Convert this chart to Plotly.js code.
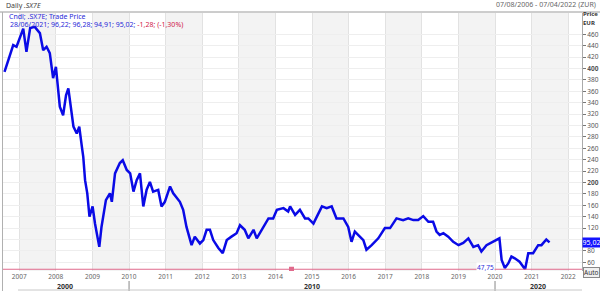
<!DOCTYPE html>
<html>
<head>
<meta charset="utf-8">
<script src="https://cdn.plot.ly/plotly-3.0.1.min.js"></script>
<style>html,body{margin:0;padding:0;background:#fff;}#chart{width:600px;height:291px;}</style>
</head>
<body>
<div id="chart"></div>
<script>
// ---- data ----
const dates = [
"2006-08-07","2006-09-12","2006-11-02","2006-12-05","2007-01-08","2007-02-10","2007-03-14","2007-04-20","2007-06-05","2007-07-26",
"2007-08-28","2007-10-01","2007-11-02","2007-12-05","2008-01-02","2008-01-26","2008-02-10","2008-03-14","2008-04-12","2008-05-05",
"2008-05-27","2008-06-25","2008-07-28","2008-08-22","2008-09-17","2008-10-01","2008-10-19","2008-11-10","2008-12-02","2009-01-02",
"2009-01-26","2009-03-10","2009-04-01","2009-05-15","2009-06-24","2009-07-13","2009-08-14","2009-10-01","2009-10-30","2009-12-09",
"2010-01-12","2010-02-14","2010-03-18","2010-04-20","2010-05-23","2010-06-25","2010-07-28","2010-08-29","2010-10-19","2010-11-21",
"2010-12-24","2011-02-14","2011-03-18","2011-05-23","2011-06-25","2011-07-28","2011-09-17","2011-10-19","2011-12-09","2012-01-12",
"2012-02-14","2012-03-18","2012-04-20","2012-06-10","2012-07-24","2012-09-02","2012-10-19","2012-12-09","2013-01-12","2013-02-28",
"2013-04-05","2013-05-27","2013-06-28","2013-09-02","2013-10-23","2013-12-09","2014-01-15","2014-03-22","2014-05-08","2014-05-27",
"2014-07-16","2014-09-02","2014-10-23","2014-11-25","2015-01-15","2015-02-18","2015-04-10","2015-05-27","2015-07-16","2015-09-02",
"2015-11-10","2015-12-28","2016-01-30","2016-03-03","2016-04-23","2016-05-27","2016-06-27","2016-08-18","2016-10-23","2016-12-28",
"2017-02-18","2017-04-23","2017-06-28","2017-08-18","2017-10-08","2017-11-25","2018-01-15","2018-03-07","2018-04-23","2018-05-27",
"2018-06-28","2018-08-04","2018-09-21","2018-11-10","2019-01-02","2019-02-18","2019-04-10","2019-05-30","2019-07-16","2019-08-18",
"2019-10-08","2019-12-14","2020-02-14","2020-03-07","2020-04-08","2020-05-12","2020-06-13","2020-07-16","2020-09-02","2020-10-27",
"2020-11-28","2021-01-15","2021-03-07","2021-04-08","2021-05-27","2021-06-28"
];
const prices = [
394,415,441,438,453,470,429,471,473,462,
432,438,427,383,403,356,333,318,353,365,
339,298,286,298,263,245,204,181,140,158,
128,87,122,169,181,166,216,234,239,222,
216,184,204,216,158,187,201,184,187,158,
166,193,181,166,152,122,90,105,93,99,
117,117,99,85,76,99,105,111,125,117,
102,117,102,122,137,137,152,155,149,158,
143,152,137,137,128,140,158,155,158,137,
137,122,96,114,105,99,82,90,102,120,
120,137,134,137,134,134,141,131,131,114,
108,111,105,96,90,94,102,87,90,79,
90,96,102,64,50,58,70,67,61,47.75,
76,76,90,90,100,95.02
];
const minValue = 47.75;
const lastValue = 95.02;
const yTickVals = [60,80,100,120,140,160,180,200,220,240,260,280,300,320,340,360,380,400,420,440,460];
const yTickText = ["60","80","","120","140","160","180","<b>200</b>","220","240","260","280","300","320","340","360","380","<b>400</b>","420","440","460"];
const xYears = [2007,2008,2009,2010,2011,2012,2013,2014,2015,2016,2017,2018,2019,2020,2021,2022];
const decades = ["2000","2010","2020"];
const legendLine1 = "Cndl; .SX7E; Trade Price";
const legendLine2 = "28/06/2021; 96,22; 96,28; 94,91; 95,02; ";
const legendLine2Red = "-1,28; (-1,30%)";

// ---- geometry helpers (pixel -> paper) ----
const W = 600, H = 291;
const M = {l:3, r:18, t:13, b:20};
const PW = W - M.l - M.r, PH = H - M.t - M.b;
const px = p => (p - M.l) / PW;
const py = p => (H - M.b - p) / PH;

const FONT = "Noto Sans, DejaVu Sans, sans-serif";
const shapes = [];
// alternate shaded year bands
for (let y = 2007; y <= 2021; y += 2) {
  shapes.push({type:'rect', xref:'x', yref:'paper', x0:y+'-01-01', x1:(y+1)+'-01-01', y0:0, y1:1,
    fillcolor:'#f3f3f3', line:{width:0}, layer:'below'});
}
// min line
shapes.push({type:'line', xref:'paper', yref:'y', x0:0, x1:1, y0:minValue, y1:minValue,
  line:{color:'#e06a8c', width:1}});
// small square handle
shapes.push({type:'rect', xref:'paper', yref:'y', x0:px(289), x1:px(294), y0:minValue, y1:minValue,
  line:{color:'#e06a8c', width:5}});
// header separator & frame
shapes.push({type:'line', xref:'paper', yref:'paper', x0:px(0), x1:px(600), y0:py(12), y1:py(12), line:{color:'#9a9a9a', width:1}});
shapes.push({type:'line', xref:'paper', yref:'paper', x0:px(2.5), x1:px(2.5), y0:py(12), y1:py(291), line:{color:'#b0b0b0', width:1}});
// decade row ticks
shapes.push({type:'line', xref:'x', yref:'paper', x0:'2010-01-01', x1:'2010-01-01', y0:py(281), y1:py(291), line:{color:'#888', width:1}});
shapes.push({type:'line', xref:'x', yref:'paper', x0:'2020-01-01', x1:'2020-01-01', y0:py(281), y1:py(291), line:{color:'#888', width:1}});
shapes.push({type:'line', xref:'paper', yref:'paper', x0:px(18), x1:px(582), y0:py(290), y1:py(290), line:{color:'#c8c8c8', width:1}});

const annotations = [
  {xref:'paper', yref:'paper', x:px(4), y:py(6), xanchor:'left', yanchor:'middle', showarrow:false,
   text:'Daily <i>.SX7E</i>', font:{family:FONT, size:7, color:'#444'}},
  {xref:'paper', yref:'paper', x:px(598), y:py(5), xanchor:'right', yanchor:'middle', showarrow:false,
   text:'07/08/2006 - 07/04/2022 (ZUR)', font:{family:FONT, size:7, color:'#666'}},
  {xref:'paper', yref:'paper', x:px(7), y:py(16.5), xanchor:'left', yanchor:'middle', showarrow:false,
   text:legendLine1, font:{family:FONT, size:7, color:'#2a2ad8'}},
  {xref:'paper', yref:'paper', x:px(8), y:py(25), xanchor:'left', yanchor:'middle', showarrow:false,
   text:legendLine2 + '<span style="color:#d0204a">' + legendLine2Red + '</span>', font:{family:FONT, size:7, color:'#2a2ad8'}},
  {xref:'paper', yref:'paper', x:px(581), y:py(14), xanchor:'left', yanchor:'middle', showarrow:false,
   text:'<b>Price</b>', font:{family:FONT, size:6}, font:{family:FONT, size:6, color:'#333'}},
  {xref:'paper', yref:'paper', x:px(581), y:py(23.5), xanchor:'left', yanchor:'middle', showarrow:false,
   text:'<b>EUR</b>', font:{family:FONT, size:6, color:'#333'}},
  {xref:'paper', yref:'y', x:1, y:lastValue, xanchor:'left', yanchor:'middle', showarrow:false,
   text:'95,02', bgcolor:'#1414ff', borderpad:0, width:17, font:{family:FONT, size:7, color:'#fff'}},
  {xref:'paper', yref:'paper', x:px(583), y:py(272), xanchor:'left', yanchor:'middle', showarrow:false,
   text:'Auto', bgcolor:'#f0f0f0', bordercolor:'#888', borderwidth:1, borderpad:0, font:{family:FONT, size:6.5, color:'#333'}},
  {xref:'x', yref:'paper', x:'2019-12-28', y:py(267), xanchor:'right', yanchor:'middle', showarrow:false,
   text:'47,75', bgcolor:'#ffffff', borderpad:0, font:{family:FONT, size:6.5, color:'#2a2ad8'}},
  {xref:'paper', yref:'paper', x:px(65), y:py(286), xanchor:'center', yanchor:'middle', showarrow:false,
   text:'<b>'+decades[0]+'</b>', font:{family:FONT, size:7, color:'#333'}},
  {xref:'paper', yref:'paper', x:px(312), y:py(286), xanchor:'center', yanchor:'middle', showarrow:false,
   text:'<b>'+decades[1]+'</b>', font:{family:FONT, size:7, color:'#333'}},
  {xref:'paper', yref:'paper', x:px(538), y:py(286), xanchor:'center', yanchor:'middle', showarrow:false,
   text:'<b>'+decades[2]+'</b>', font:{family:FONT, size:7, color:'#333'}}
];

const trace = {
  x: dates, y: prices, type:'scatter', mode:'lines',
  line:{color:'#0a0ae6', width:2.5}, hoverinfo:'skip'
};

const layout = {
  width: W, height: H,
  margin: M,
  paper_bgcolor:'#ffffff', plot_bgcolor:'#ffffff',
  showlegend:false,
  xaxis: {
    type:'date', range:['2006-07-23','2022-05-18'],
    tickvals: xYears.map(y => y + '-01-01'), ticktext: xYears.map(String),
    showgrid:true, gridcolor:'#e2e2e2', gridwidth:1,
    ticks:'', tickfont:{family:FONT, size:6.5, color:'#666'},
    showline:false, zeroline:false, fixedrange:true
  },
  yaxis: {
    side:'right', range:[44.7, 497.3],
    tickvals: yTickVals, ticktext: yTickText,
    ticks:'outside', ticklen:3, tickcolor:'#777',
    tickfont:{family:FONT, size:6.5, color:'#555'},
    showgrid:true, gridcolor:'#eeeeee', gridwidth:1,
    showline:true, linecolor:'#aaa', linewidth:1,
    zeroline:false, fixedrange:true
  },
  shapes: shapes,
  annotations: annotations
};

Plotly.newPlot('chart', [trace], layout, {displayModeBar:false, staticPlot:true});
</script>
</body>
</html>
